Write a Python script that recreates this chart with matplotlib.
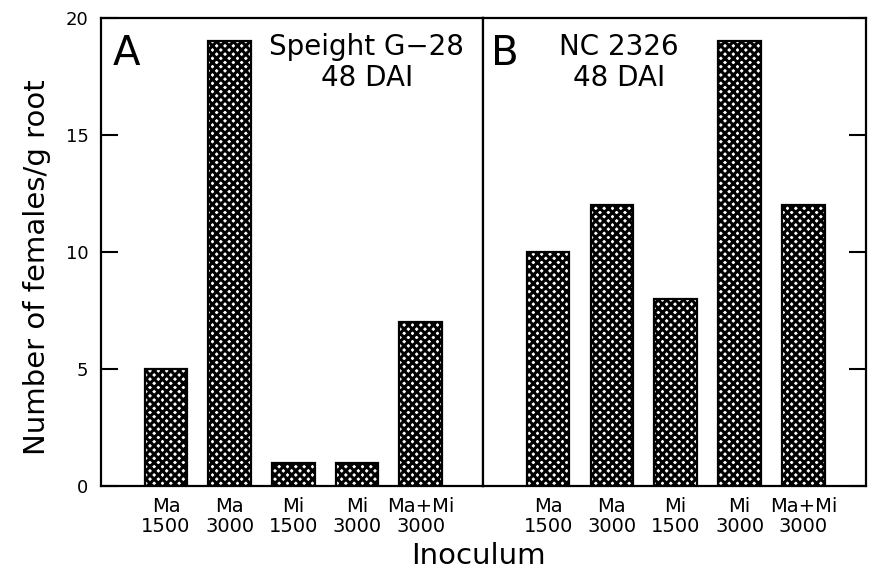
import matplotlib
matplotlib.use("Agg")
import matplotlib.pyplot as plt

# datos
etiquetas = ["Ma\n1500", "Ma\n3000", "Mi\n1500", "Mi\n3000", "Ma+Mi\n3000"]
hembras_speight = [5, 19, 1, 1, 7]
hembras_nc2326 = [10, 12, 8, 19, 12]
yticks = [0, 5, 10, 15, 20]

plt.rcParams["font.family"] = "DejaVu Sans"
plt.rcParams["hatch.linewidth"] = 2.2
plt.rcParams["hatch.color"] = "black"

fig = plt.figure(figsize=(8.77, 5.76), dpi=100)
ax1 = fig.add_axes([0.1152, 0.1563, 0.4356, 0.8125])
ax2 = fig.add_axes([0.5507, 0.1563, 0.4367, 0.8125])

x = list(range(len(etiquetas)))

for ax, valores in [(ax1, hembras_speight), (ax2, hembras_nc2326)]:
    ax.bar(x, valores, width=0.67, color="white", edgecolor="black",
           hatch="xxxx", linewidth=1.6)
    ax.set_xlim(-1.02, 4.98)
    ax.set_ylim(0, 20)
    ax.set_xticks(x)
    ax.set_xticklabels(etiquetas, fontsize=14, linespacing=1.05)
    ax.tick_params(axis="x", length=0, pad=8)
    for s in ax.spines.values():
        s.set_linewidth(1.6)

ax1.set_yticks(yticks)
ax1.tick_params(axis="y", direction="in", length=12, width=1.5,
                labelsize=13, pad=9)
ax2.set_yticks(yticks)
ax2.yaxis.tick_right()
ax2.tick_params(axis="y", direction="in", length=12, width=1.5,
                labelright=False)

ax1.text(0.03, 0.965, "A", transform=ax1.transAxes, fontsize=29,
         va="top", ha="left")
ax1.text(0.696, 0.967, "Speight G\u221228\n48 DAI", transform=ax1.transAxes,
         fontsize=20, va="top", ha="center", linespacing=1.1)
ax2.text(0.02, 0.965, "B", transform=ax2.transAxes, fontsize=29,
         va="top", ha="left")
ax2.text(0.355, 0.967, "NC 2326\n48 DAI", transform=ax2.transAxes,
         fontsize=20, va="top", ha="center", linespacing=1.1)

fig.text(0.042, 0.536, "Number of females/g root", rotation=90,
         fontsize=21, va="center", ha="center")
fig.text(0.546, 0.01, "Inoculum", fontsize=21, ha="center", va="bottom")

fig.savefig("out.png", dpi=100)
